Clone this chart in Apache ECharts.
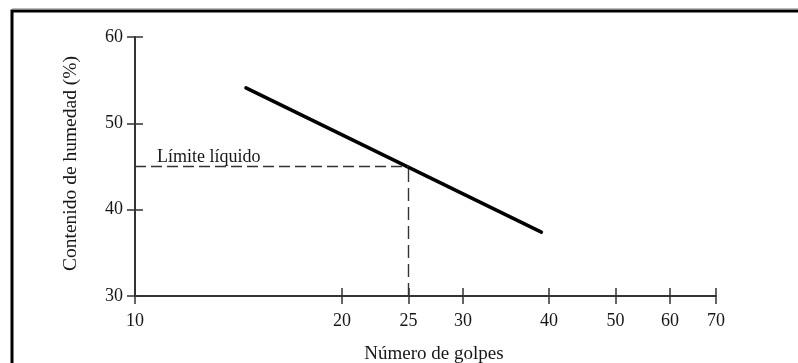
<!DOCTYPE html>
<html>
<head>
<meta charset="utf-8">
<script src="https://cdn.jsdelivr.net/npm/echarts@6/dist/echarts.min.js"></script>
<style>
  html, body { margin: 0; padding: 0; background: #fff; }
  #chart { width: 798px; height: 363px; }
</style>
</head>
<body>
<div id="chart"></div>
<script>
// Flow curve: number of blows (log scale) vs. moisture content
const blows = [14.5, 39];
const moisture = [54.1, 37.4];

// Liquid limit read at 25 blows
const llBlows = 25;
const llMoisture = 45;

const xTicks = [10, 20, 25, 30, 40, 50, 60, 70];
const yTicks = [30, 40, 50, 60];

const FONT = '"Liberation Serif", "DejaVu Serif", serif';
const TEXT = '#161616';
const AXIS = '#333';

const chart = echarts.init(document.getElementById('chart'), null, { renderer: 'canvas' });

const baseX = {
  type: 'log',
  logBase: 10,
  min: xTicks[0],
  max: xTicks[xTicks.length - 1],
  position: 'bottom',
  splitLine: { show: false },
  minorTick: { show: false }
};
const baseY = {
  type: 'value',
  min: yTicks[0],
  max: yTicks[yTicks.length - 1],
  interval: 10,
  position: 'left',
  splitLine: { show: false }
};

chart.setOption({
  animation: false,
  backgroundColor: '#fff',
  grid: { left: 135, right: 82, top: 37, bottom: 67, containLabel: false, outerBoundsMode: 'none' },
  xAxis: [
    Object.assign({}, baseX, {
      name: 'Número de golpes',
      nameLocation: 'middle',
      nameGap: 49,
      nameTextStyle: { fontFamily: FONT, fontSize: 19, color: TEXT, padding: [0, 0, 0, 17] },
      axisLine: { show: true, onZero: false, lineStyle: { color: AXIS, width: 2 } },
      axisTick: { show: true, inside: false, length: 8, customValues: xTicks, lineStyle: { color: AXIS, width: 1.5 } },
      axisLabel: {
        show: true, margin: 16, customValues: xTicks,
        fontFamily: FONT, fontSize: 18, color: TEXT,
        formatter: v => String(Math.round(v))
      }
    }),
    Object.assign({}, baseX, {
      axisLine: { show: false },
      axisTick: { show: true, inside: true, length: 8, customValues: xTicks, lineStyle: { color: AXIS, width: 1.5 } },
      axisLabel: { show: false }
    })
  ],
  yAxis: [
    Object.assign({}, baseY, {
      name: 'Contenido de humedad (%)',
      nameLocation: 'middle',
      nameGap: 54,
      nameTextStyle: { fontFamily: FONT, fontSize: 19.5, color: TEXT, padding: [0, 0, 0, 6] },
      axisLine: { show: true, onZero: false, lineStyle: { color: AXIS, width: 2 } },
      axisTick: { show: true, inside: false, length: 8, lineStyle: { color: AXIS, width: 1.5 } },
      axisLabel: { show: true, margin: 12, fontFamily: FONT, fontSize: 18, color: TEXT }
    }),
    Object.assign({}, baseY, {
      axisLine: { show: false },
      axisTick: { show: true, inside: true, length: 8, lineStyle: { color: AXIS, width: 1.5 } },
      axisLabel: { show: false }
    })
  ],
  series: [
    {
      type: 'line',
      xAxisIndex: 0,
      yAxisIndex: 0,
      data: blows.map((b, i) => [b, moisture[i]]),
      showSymbol: false,
      symbol: 'none',
      lineStyle: { color: '#000', width: 3.5, cap: 'round' },
      silent: true,
      markLine: {
        silent: true,
        symbol: 'none',
        lineStyle: { color: AXIS, width: 1.4, type: [11, 5] },
        label: { show: false },
        data: [
          [
            { coord: [xTicks[0], llMoisture], label: {
                show: true, position: 'insideStartTop', formatter: 'Límite líquido',
                fontFamily: FONT, fontSize: 18, color: TEXT, distance: [22, 0] } },
            { coord: [llBlows, llMoisture] }
          ],
          [
            { coord: [llBlows, yTicks[0]], lineStyle: { type: [13, 6] } },
            { coord: [llBlows, llMoisture] }
          ]
        ]
      }
    }
  ],
  graphic: [
    { type: 'polyline', silent: true, shape: { points: [[12, 370], [12, 11], [805, 11]] },
      style: { stroke: '#000', lineWidth: 3, fill: null } },
    { type: 'line', silent: true, shape: { x1: 12, y1: 8.5, x2: 805, y2: 8.5 },
      style: { stroke: '#bbb', lineWidth: 1 } }
  ]
});
</script>
</body>
</html>
